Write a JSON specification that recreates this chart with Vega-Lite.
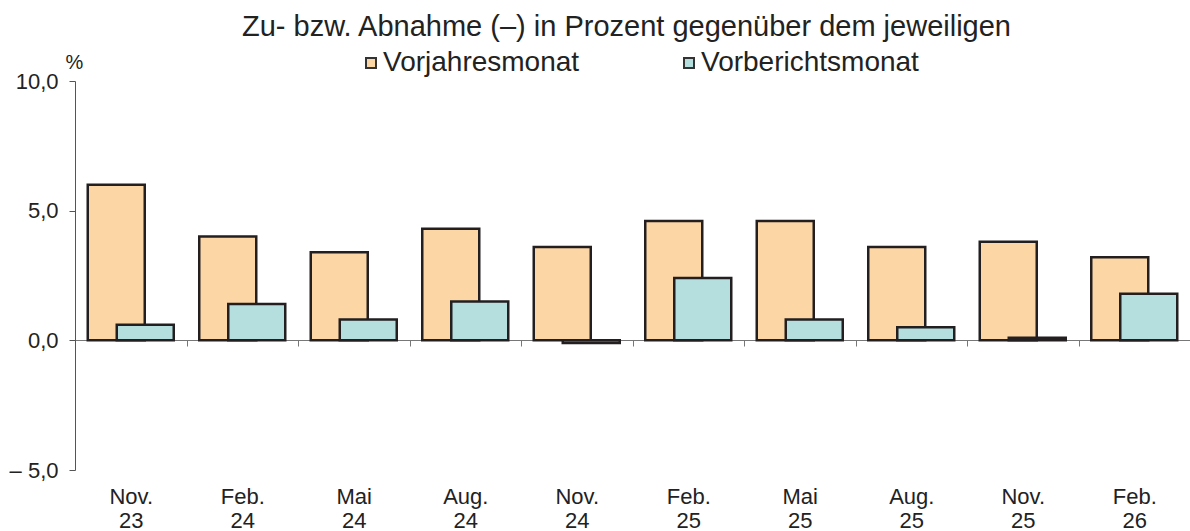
{
  "$schema": "https://vega.github.io/schema/vega-lite/v6.json",
  "autosize": "none",
  "width": 1115,
  "height": 389,
  "padding": {"left": 75, "top": 81, "right": 0, "bottom": 61},
  "background": "white",
  "config": {
    "view": {"stroke": null},
    "font": "Liberation Sans",
    "text": {"font": "Liberation Sans"}
  },
  "title": {
    "text": "Zu- bzw. Abnahme (–) in Prozent gegenüber dem jeweiligen",
    "font": "Liberation Sans",
    "fontSize": 29,
    "fontWeight": "normal",
    "color": "#222222",
    "anchor": "middle",
    "frame": "group",
    "offset": 7,
    "dx": -6
  },
  "data": {
    "values": [
      {"Monat": "Nov. 23", "Reihe": "Vorjahresmonat", "Wert": 6.0},
      {"Monat": "Feb. 24", "Reihe": "Vorjahresmonat", "Wert": 4.0},
      {"Monat": "Mai 24", "Reihe": "Vorjahresmonat", "Wert": 3.4},
      {"Monat": "Aug. 24", "Reihe": "Vorjahresmonat", "Wert": 4.3},
      {"Monat": "Nov. 24", "Reihe": "Vorjahresmonat", "Wert": 3.6},
      {"Monat": "Feb. 25", "Reihe": "Vorjahresmonat", "Wert": 4.6},
      {"Monat": "Mai 25", "Reihe": "Vorjahresmonat", "Wert": 4.6},
      {"Monat": "Aug. 25", "Reihe": "Vorjahresmonat", "Wert": 3.6},
      {"Monat": "Nov. 25", "Reihe": "Vorjahresmonat", "Wert": 3.8},
      {"Monat": "Feb. 26", "Reihe": "Vorjahresmonat", "Wert": 3.2},
      {"Monat": "Nov. 23", "Reihe": "Vorberichtsmonat", "Wert": 0.6},
      {"Monat": "Feb. 24", "Reihe": "Vorberichtsmonat", "Wert": 1.4},
      {"Monat": "Mai 24", "Reihe": "Vorberichtsmonat", "Wert": 0.8},
      {"Monat": "Aug. 24", "Reihe": "Vorberichtsmonat", "Wert": 1.5},
      {"Monat": "Nov. 24", "Reihe": "Vorberichtsmonat", "Wert": -0.1},
      {"Monat": "Feb. 25", "Reihe": "Vorberichtsmonat", "Wert": 2.4},
      {"Monat": "Mai 25", "Reihe": "Vorberichtsmonat", "Wert": 0.8},
      {"Monat": "Aug. 25", "Reihe": "Vorberichtsmonat", "Wert": 0.5},
      {"Monat": "Nov. 25", "Reihe": "Vorberichtsmonat", "Wert": 0.1},
      {"Monat": "Feb. 26", "Reihe": "Vorberichtsmonat", "Wert": 1.8}
    ]
  },
  "encoding": {
    "x": {
      "field": "Monat",
      "type": "nominal",
      "sort": null,
      "scale": {"paddingInner": 0, "paddingOuter": 0},
      "axis": {
        "title": null,
        "labelAngle": 0,
        "labelExpr": "split(datum.label, ' ')",
        "labelFont": "Liberation Sans",
        "labelFontSize": 22,
        "labelColor": "#222222",
        "labelLineHeight": 24,
        "labelBaseline": "top",
        "offset": -130,
        "labelPadding": 140,
        "tickBand": "extent",
        "tickSize": 6,
        "tickColor": "#777777",
        "domainColor": "#777777",
        "domainWidth": 1,
        "grid": false
      }
    },
    "y": {
      "field": "Wert",
      "type": "quantitative",
      "scale": {"domain": [-5, 10], "nice": false, "zero": false},
      "axis": {
        "values": [-5, 0, 5, 10],
        "labelExpr": "datum.value < 0 ? '– ' + replace(format(-datum.value, '.1f'), '.', ',') : replace(format(datum.value, '.1f'), '.', ',')",
        "labelFont": "Liberation Sans",
        "labelFontSize": 22,
        "labelColor": "#222222",
        "labelPadding": 11,
        "tickSize": 6,
        "tickColor": "#555555",
        "domainColor": "#555555",
        "grid": false,
        "title": "%",
        "titleAngle": 0,
        "titleFont": "Liberation Sans",
        "titleFontSize": 20,
        "titleFontWeight": "normal",
        "titleColor": "#222222",
        "titleAlign": "center",
        "titleBaseline": "middle",
        "titleX": -1,
        "titleY": -19
      }
    },
    "color": {
      "field": "Reihe",
      "type": "nominal",
      "scale": {
        "domain": ["Vorjahresmonat", "Vorberichtsmonat"],
        "range": ["#FDD6A6", "#B5DEDF"]
      },
      "legend": {
        "title": null,
        "orient": "none",
        "direction": "horizontal",
        "legendX": 282,
        "legendY": -32,
        "symbolType": "square",
        "symbolSize": 100,
        "symbolStrokeColor": "#333333",
        "symbolStrokeWidth": 2,
        "symbolOpacity": 1,
        "labelFont": "Liberation Sans",
        "labelFontSize": 28,
        "labelColor": "#222222",
        "labelOffset": -2,
        "labelLimit": 0,
        "columnPadding": 95
      }
    }
  },
  "layer": [
    {
      "transform": [{"filter": "datum.Reihe == 'Vorjahresmonat'"}],
      "mark": {"type": "bar", "width": 57, "xOffset": -14.5, "stroke": "#231F20", "strokeWidth": 2.5, "opacity": 1}
    },
    {
      "transform": [{"filter": "datum.Reihe == 'Vorberichtsmonat'"}],
      "mark": {"type": "bar", "width": 57, "xOffset": 14.5, "stroke": "#231F20", "strokeWidth": 2.5, "opacity": 1}
    }
  ]
}
